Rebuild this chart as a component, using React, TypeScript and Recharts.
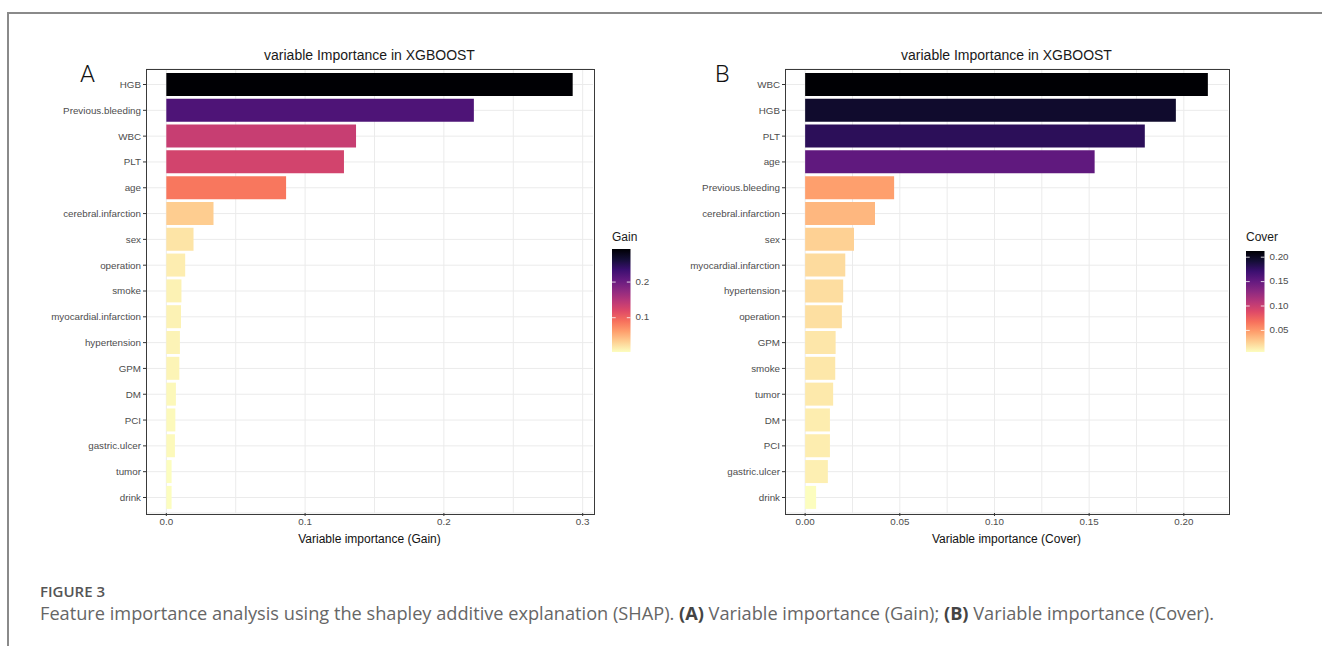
import React from 'react';
import { BarChart, Bar, XAxis, YAxis, CartesianGrid, Cell } from 'recharts';

// Gain importance, top to bottom
const gainFeatures = [
  'HGB', 'Previous.bleeding', 'WBC', 'PLT', 'age', 'cerebral.infarction', 'sex',
  'operation', 'smoke', 'myocardial.infarction', 'hypertension', 'GPM', 'DM', 'PCI',
  'gastric.ulcer', 'tumor', 'drink',
];
const gainValues = [
  0.2928, 0.2216, 0.1367, 0.128, 0.0863, 0.034, 0.0196, 0.0136, 0.0109, 0.0106,
  0.0098, 0.0094, 0.0069, 0.0065, 0.0062, 0.0038, 0.0038,
];
const gainTicks = [0, 0.1, 0.2, 0.3];
const gainGrid = [0, 0.05, 0.1, 0.15, 0.2, 0.25, 0.3];
const gainLegendTicks = [0.1, 0.2];

// Cover importance, top to bottom
const coverFeatures = [
  'WBC', 'HGB', 'PLT', 'age', 'Previous.bleeding', 'cerebral.infarction', 'sex',
  'myocardial.infarction', 'hypertension', 'operation', 'GPM', 'smoke', 'tumor', 'DM',
  'PCI', 'gastric.ulcer', 'drink',
];
const coverValues = [
  0.2127, 0.1958, 0.1794, 0.1529, 0.047, 0.0369, 0.0258, 0.0212, 0.0201, 0.0194,
  0.0161, 0.0159, 0.0148, 0.0131, 0.0131, 0.012, 0.0058,
];
const coverTicks = [0, 0.05, 0.1, 0.15, 0.2];
const coverGrid = [0, 0.025, 0.05, 0.075, 0.1, 0.125, 0.15, 0.175, 0.2];
const coverLegendTicks = [0.05, 0.1, 0.15, 0.2];

const MAGMA = [
  '#000004', '#140e36', '#3b0f70', '#641a80', '#8c2981', '#b73779',
  '#de4968', '#f7705c', '#fe9f6d', '#fecf92', '#fcfdbf',
];

const hex = (c: string) => [1, 3, 5].map((i) => parseInt(c.slice(i, i + 2), 16));

function magma(t: number) {
  const p = Math.max(0, Math.min(1, t)) * (MAGMA.length - 1);
  const i = Math.min(Math.floor(p), MAGMA.length - 2);
  const f = p - i;
  const a = hex(MAGMA[i]);
  const b = hex(MAGMA[i + 1]);
  const m = a.map((v, k) => Math.round(v + (b[k] - v) * f));
  return `rgb(${m[0]},${m[1]},${m[2]})`;
}

const SANS = '"Liberation Sans", Arial, sans-serif';
const PLOT_TOP = 69;
const PLOT_BOTTOM = 513;
const CHART_H = 560;
const CHART_W = 640;

interface PanelProps {
  x: number;
  plotLeft: number;
  plotRight: number;
  features: string[];
  values: number[];
  ticks: number[];
  grid: number[];
  digits: number;
  axisTitle: string;
  letter: string;
  letterX: number;
}

function Panel({ x, plotLeft, plotRight, features, values, ticks, grid, digits, axisTitle, letter, letterX }: PanelProps) {
  const max = Math.max(...values);
  const min = Math.min(...values);
  const pad = max * 0.05;
  const d0 = -pad;
  const d1 = max + pad;
  const data = features.map((name, i) => ({ name, value: values[i] }));
  const yw = plotLeft - x;
  const plotW = plotRight - plotLeft;

  return (
    <>
      <div
        style={{
          position: 'absolute', left: plotLeft, width: plotW, top: 47, textAlign: 'center',
          fontFamily: SANS, fontSize: 14, color: '#1a1a1a', whiteSpace: 'nowrap',
        }}
      >
        variable Importance in XGBOOST
      </div>
      <div
        style={{
          position: 'absolute', left: letterX, top: 60, fontFamily: 'Roboto, sans-serif',
          fontWeight: 300, fontSize: 24, color: '#111',
        }}
      >
        {letter}
      </div>
      <div style={{ position: 'absolute', left: x, top: 0 }}>
        <BarChart
          width={CHART_W}
          height={CHART_H}
          data={data}
          layout="vertical"
          barCategoryGap="5%"
          margin={{ top: PLOT_TOP, right: CHART_W - (plotRight - x), bottom: 0, left: 0 }}
        >
          <CartesianGrid
            stroke="#ebebeb"
            strokeWidth={1}
            verticalCoordinatesGenerator={() => grid.map((v) => plotLeft - x + ((v - d0) / (d1 - d0)) * plotW)}
          />
          <XAxis
            type="number"
            domain={[d0, d1]}
            allowDataOverflow
            ticks={ticks}
            tickFormatter={(v: number) => v.toFixed(digits)}
            axisLine={false}
            tickLine={{ stroke: '#333' }}
            tickSize={3}
            tick={{ fontSize: 9.8, fill: '#4d4d4d', fontFamily: SANS }}
            height={CHART_H - PLOT_BOTTOM}
            label={{
              value: axisTitle, position: 'insideBottom', offset: 17,
              style: { fontSize: 12, fill: '#111', fontFamily: SANS },
            }}
          />
          <YAxis
            type="category"
            dataKey="name"
            width={yw}
            interval={0}
            axisLine={false}
            tickLine={{ stroke: '#333' }}
            tickSize={3}
            padding={{ top: 2.6, bottom: 2.6 }}
            tick={{ fontSize: 9.8, fill: '#4d4d4d', fontFamily: SANS }}
          />
          <Bar dataKey="value" isAnimationActive={false}>
            {data.map((d) => (
              <Cell key={d.name} fill={magma((max - d.value) / (max - min))} />
            ))}
          </Bar>
        </BarChart>
      </div>
      <div
        style={{
          position: 'absolute', left: plotLeft - 0.5, top: PLOT_TOP - 0.5, width: plotW,
          height: PLOT_BOTTOM - PLOT_TOP, border: '1px solid #3a3a3a', pointerEvents: 'none',
        }}
      />
    </>
  );
}

interface LegendProps {
  title: string;
  values: number[];
  ticks: number[];
  digits: number;
  left: number;
  top: number;
  bottom: number;
  id: string;
}

function ColorBar({ title, values, ticks, digits, left, top, bottom, id }: LegendProps) {
  const max = Math.max(...values);
  const min = Math.min(...values);
  const w = 18.5;
  const h = bottom - top;
  const yOf = (v: number) => top + ((max - v) / (max - min)) * h;
  return (
    <svg style={{ position: 'absolute', left: 0, top: 0 }} width={1322} height={646}>
      <defs>
        <linearGradient id={id} x1="0" y1="0" x2="0" y2="1">
          {MAGMA.map((c, i) => (
            <stop key={i} offset={i / (MAGMA.length - 1)} stopColor={c} />
          ))}
        </linearGradient>
      </defs>
      <text x={left} y={238} dominantBaseline="middle" fontSize={12} fill="#1a1a1a" fontFamily={SANS}>
        {title}
      </text>
      <rect x={left} y={top} width={w} height={h} fill={`url(#${id})`} />
      {ticks.map((v) => (
        <g key={v}>
          <line x1={left} x2={left + 3.7} y1={yOf(v)} y2={yOf(v)} stroke="#fff" strokeWidth={0.8} />
          <line x1={left + w - 3.7} x2={left + w} y1={yOf(v)} y2={yOf(v)} stroke="#fff" strokeWidth={0.8} />
          <text x={left + w + 5} y={yOf(v)} dominantBaseline="middle" fontSize={9.8} fill="#4d4d4d" fontFamily={SANS}>
            {v.toFixed(digits)}
          </text>
        </g>
      ))}
    </svg>
  );
}

export default function App() {
  return (
    <div style={{ position: 'fixed', left: 0, top: 0, width: 1322, height: 646, background: '#fff', overflow: 'hidden' }}>
      <div style={{ position: 'absolute', left: 7, top: 12, right: 0, height: 1.5, background: '#8a8a8a' }} />
      <div style={{ position: 'absolute', left: 7, top: 12, bottom: 0, width: 1.5, background: '#8a8a8a' }} />

      <Panel
        x={0} plotLeft={146} plotRight={593}
        features={gainFeatures} values={gainValues} ticks={gainTicks} grid={gainGrid}
        digits={1} axisTitle="Variable importance (Gain)" letter="A" letterX={80}
      />
      <Panel
        x={640} plotLeft={785} plotRight={1228}
        features={coverFeatures} values={coverValues} ticks={coverTicks} grid={coverGrid}
        digits={2} axisTitle="Variable importance (Cover)" letter="B" letterX={715}
      />
      <ColorBar id="gainGrad" title="Gain" values={gainValues} ticks={gainLegendTicks} digits={1} left={612} top={249} bottom={352} />
      <ColorBar id="coverGrad" title="Cover" values={coverValues} ticks={coverLegendTicks} digits={2} left={1246} top={251} bottom={352} />

      <div style={{ position: 'absolute', left: 40, top: 581, fontFamily: '"Open Sans", sans-serif', fontSize: 15, fontWeight: 600, color: '#555' }}>
        FIGURE 3
      </div>
      <div
        style={{
          position: 'absolute', left: 40, top: 601, fontFamily: '"Open Sans", sans-serif', fontSize: 18.2,
          color: '#666', whiteSpace: 'nowrap',
        }}
      >
        Feature importance analysis using the shapley additive explanation (SHAP). <b style={{ color: '#444', fontWeight: 700 }}>(A)</b> Variable
        importance (Gain); <b style={{ color: '#444', fontWeight: 700 }}>(B)</b> Variable importance (Cover).
      </div>
    </div>
  );
}
